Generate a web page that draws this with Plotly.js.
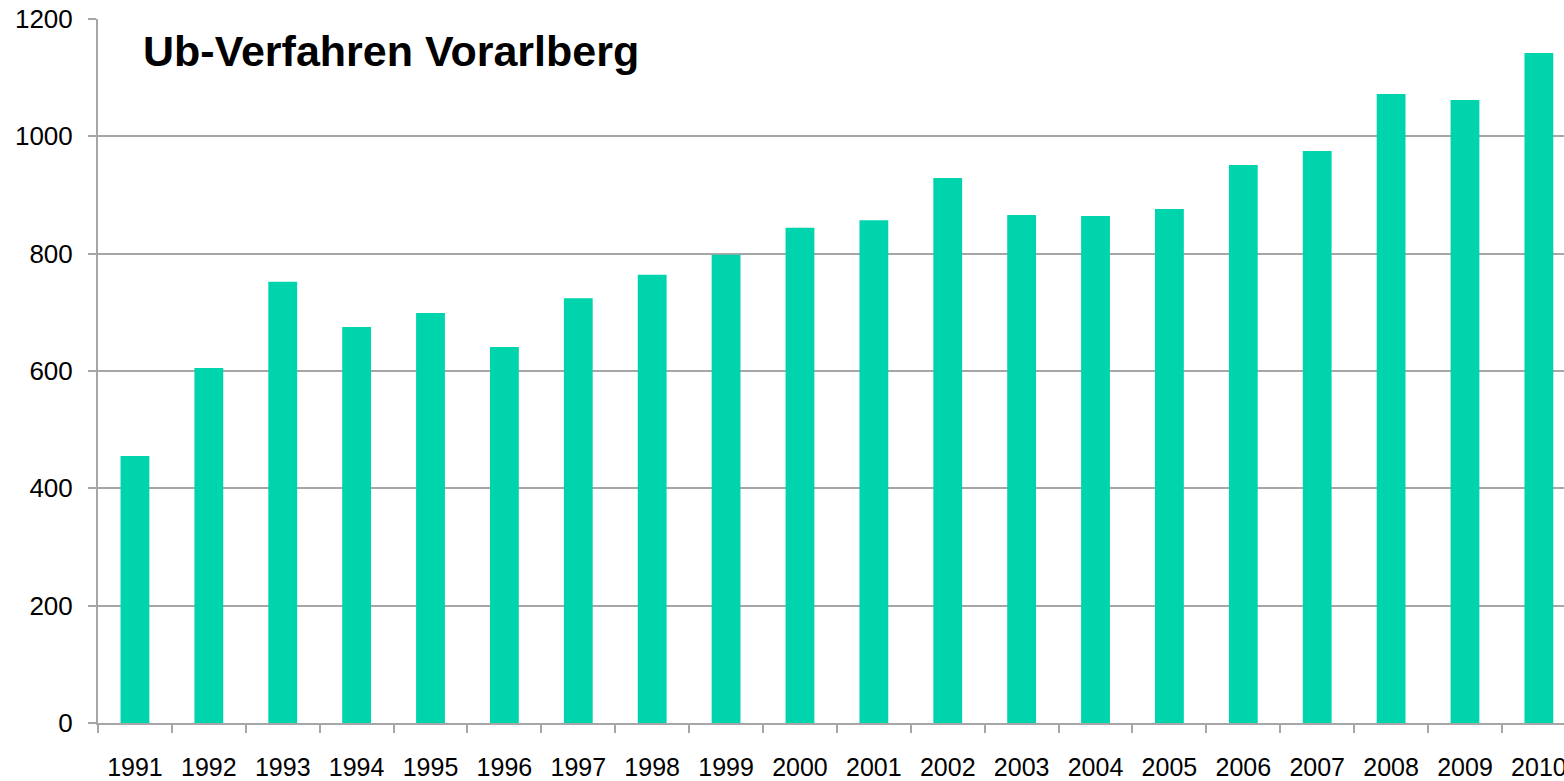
<!DOCTYPE html>
<html>
<head>
<meta charset="utf-8">
<script src="https://cdn.plot.ly/plotly-3.0.1.min.js"></script>
<style>html,body{margin:0;padding:0;background:#fff;}#chart{width:1564px;height:781px;}</style>
</head>
<body>
<div id="chart"></div>
<script>
const years = ["1991","1992","1993","1994","1995","1996","1997","1998","1999","2000","2001","2002","2003","2004","2005","2006","2007","2008","2009","2010"];
const verfahren = [455, 605, 752, 675, 699, 641, 724, 764, 798, 844, 857, 929, 866, 864, 876, 951, 975, 1072, 1062, 1142];
const titleText = "Ub-Verfahren Vorarlberg";
const yTicks = [0, 200, 400, 600, 800, 1000, 1200];

const grey = "#a6a6a6";
const trace = {
  type: "bar",
  x: years,
  y: verfahren,
  marker: {color: "#00d4ad", line: {width: 0}},
  hoverinfo: "x+y"
};
const layout = {
  width: 1564, height: 781,
  margin: {l: 98, r: 0, t: 19, b: 58, pad: 0},
  paper_bgcolor: "#fff", plot_bgcolor: "#fff",
  font: {family: "Liberation Sans, Arial, sans-serif", color: "#000"},
  showlegend: false,
  bargap: 0.61,
  xaxis: {
    type: "category",
    range: [-0.5, 19.34],
    showline: true, linecolor: grey, linewidth: 2,
    ticks: "outside", tickson: "boundaries", ticklen: 8, tickwidth: 2, tickcolor: grey,
    tickfont: {size: 25, color: "#000"},
    ticklabelstandoff: 21,
    showgrid: false, zeroline: false, fixedrange: true
  },
  yaxis: {
    range: [0, 1200],
    tickvals: yTicks,
    showline: true, linecolor: grey, linewidth: 2,
    ticks: "outside", ticklen: 8, tickwidth: 2, tickcolor: grey,
    tickfont: {size: 26, color: "#000"},
    ticklabelstandoff: 10,
    showgrid: true, gridcolor: grey, gridwidth: 2,
    zeroline: false, fixedrange: true
  },
  annotations: [{
    text: "<b>" + titleText + "</b>",
    xref: "paper", yref: "paper",
    x: 0.029, y: 0.954, xanchor: "left", yanchor: "middle",
    showarrow: false,
    font: {size: 43, color: "#000", family: "Liberation Sans, Arial, sans-serif"}
  }]
};
Plotly.newPlot("chart", [trace], layout, {displayModeBar: false, staticPlot: true});
</script>
</body>
</html>
